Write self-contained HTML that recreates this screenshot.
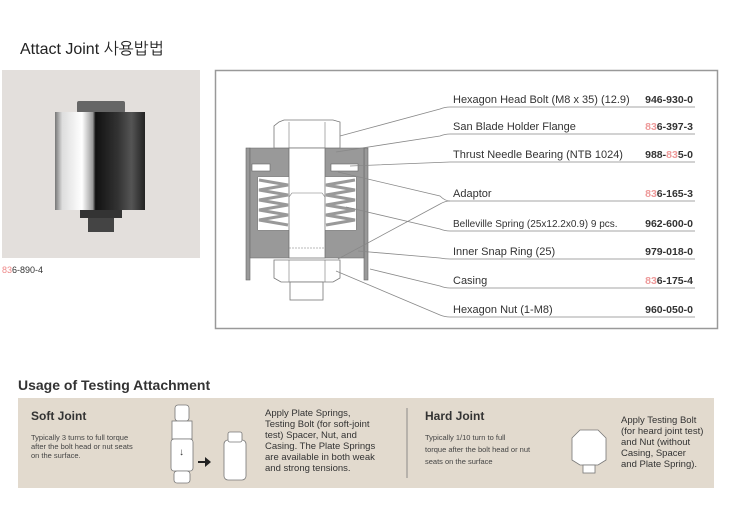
<!DOCTYPE html>
<html><head><meta charset="utf-8"><style>
body{margin:0;background:#fff;width:740px;height:521px;overflow:hidden;font-family:"Liberation Sans",Arial,sans-serif;}
</style></head><body>
<svg width="740" height="521" xmlns="http://www.w3.org/2000/svg" font-family="Liberation Sans, Noto Sans CJK KR, sans-serif">
<text x="20" y="54" font-size="16" fill="#222" font-family="Liberation Sans, NanumGothic, Noto Sans CJK KR, sans-serif">Attact Joint 사용밥법</text>
<!-- photo -->
<rect x="2" y="70" width="198" height="188" fill="#e3dfdc"/>
<defs>
<linearGradient id="cyl" x1="0" x2="1">
<stop offset="0" stop-color="#777"/><stop offset="0.08" stop-color="#ddd"/><stop offset="0.3" stop-color="#fff"/><stop offset="0.42" stop-color="#999"/><stop offset="0.45" stop-color="#111"/><stop offset="0.7" stop-color="#333"/><stop offset="0.85" stop-color="#555"/><stop offset="1" stop-color="#222"/>
</linearGradient>
</defs>
<rect x="77" y="101" width="48" height="12" rx="2" fill="#666"/>
<rect x="55" y="112" width="90" height="98" fill="url(#cyl)"/>
<rect x="80" y="210" width="42" height="8" fill="#333"/>
<rect x="88" y="218" width="26" height="14" fill="#444"/>
<text x="2" y="273" font-size="9" fill="#333"><tspan fill="#e88">83</tspan>6-890-4</text>
<!-- frame -->
<rect x="215.5" y="70.5" width="502" height="258" fill="none" stroke="#999" stroke-width="1.5"/>
<g fill="#aaa" stroke="#666" stroke-width="0.6">
<rect x="246" y="148" width="4" height="132" fill="#999"/>
<rect x="364" y="148" width="4" height="132" fill="#999"/>
<path d="M250 148 H289 V177 H258 V230 H289 V258 H250 Z" fill="#999"/>
<path d="M325 148 H364 V258 H325 V230 H356 V177 H325 Z" fill="#999"/>
<rect x="252" y="164" width="18" height="7" fill="#fff"/>
<rect x="331" y="164" width="27" height="7" fill="#fff"/>
</g>
<rect x="258" y="177" width="31" height="53" fill="#fff"/>
<rect x="325" y="177" width="31" height="53" fill="#fff"/>
<g fill="none" stroke="#999" stroke-width="3">
<path d="M259 180 L288 185 L259 190 L288 195 L259 200 L288 205 L259 210 L288 215 L259 220 L288 225"/>
<path d="M355 180 L326 185 L355 190 L326 195 L355 200 L326 205 L355 210 L326 215 L355 220 L326 225"/>
</g>
<g fill="#fff" stroke="#777" stroke-width="0.8">
<path d="M279 122 L284 120 H333 L340 122 V148 H274 V126 Z"/>
<rect x="289" y="148" width="36" height="110"/>
<path d="M274 260 H340 V278 L333 282 H281 L274 278 Z"/>
<rect x="290" y="282" width="33" height="18"/>
</g>
<g fill="none" stroke="#777" stroke-width="0.6">
<line x1="289" y1="122" x2="289" y2="148"/><line x1="325" y1="122" x2="325" y2="148"/>
<line x1="289" y1="260" x2="289" y2="282"/><line x1="325" y1="260" x2="325" y2="282"/>
<path d="M289 197 L292 193 H322 L325 197"/>
</g>
<line x1="289" y1="248" x2="325" y2="248" stroke="#777" stroke-width="0.6" stroke-dasharray="2,1"/>
<!-- leaders -->
<g fill="none" stroke="#888" stroke-width="0.8">
<path d="M695 107 H450 Q445 107 440 109 L340 136"/>
<path d="M695 134 H450 Q445 134 440 136 L336 152"/>
<path d="M695 162 H450 L350 166"/>
<path d="M695 201 H450 Q445 201 440 196 L338 172"/>
<path d="M695 231 H450 Q445 231 440 229 L346 207"/>
<path d="M695 259 H450 Q445 259 440 258 L358 251"/>
<path d="M695 288 H450 Q445 288 440 286 L370 269"/>
<path d="M695 317 H450 Q445 317 440 315 L336 271"/>
<path d="M450 201 Q445 201 440 204 L338 259"/>
</g>
<g font-size="11" fill="#333">
<text x="453" y="103">Hexagon Head Bolt (M8 x 35) (12.9)</text>
<text x="453" y="130">San Blade Holder Flange</text>
<text x="453" y="158">Thrust Needle Bearing (NTB 1024)</text>
<text x="453" y="197">Adaptor</text>
<text x="453" y="227" font-size="10">Belleville Spring (25x12.2x0.9) 9 pcs.</text>
<text x="453" y="255">Inner Snap Ring (25)</text>
<text x="453" y="284">Casing</text>
<text x="453" y="313">Hexagon Nut (1-M8)</text>
</g>
<g font-size="10.5" font-weight="bold" fill="#333" text-anchor="end">
<text x="693" y="103">946-930-0</text>
<text x="693" y="130"><tspan fill="#e99">83</tspan>6-397-3</text>
<text x="693" y="158">988-<tspan fill="#e99">83</tspan>5-0</text>
<text x="693" y="197"><tspan fill="#e99">83</tspan>6-165-3</text>
<text x="693" y="227">962-600-0</text>
<text x="693" y="255">979-018-0</text>
<text x="693" y="284"><tspan fill="#e99">83</tspan>6-175-4</text>
<text x="693" y="313">960-050-0</text>
</g>
<!-- usage -->
<text x="18" y="390" font-size="14" font-weight="bold" fill="#333">Usage of Testing Attachment</text>
<rect x="18" y="398" width="696" height="90" fill="#e2dace"/>
<text x="31" y="420" font-size="12" font-weight="bold" fill="#333">Soft Joint</text>
<g font-size="7.5" fill="#444">
<text x="31" y="440">Typically 3 turns to full torque</text>
<text x="31" y="449">after the bolt head or nut seats</text>
<text x="31" y="458">on the surface.</text>
</g>
<g fill="#fff" stroke="#777" stroke-width="0.8">
<rect x="175" y="405" width="14" height="16" rx="3"/>
<rect x="172" y="421" width="20" height="18"/>
<rect x="171" y="439" width="22" height="32" rx="3"/>
<rect x="174" y="471" width="16" height="12" rx="3"/>
<rect x="224" y="440" width="22" height="40" rx="4"/>
<rect x="228" y="432" width="14" height="10" rx="2"/>
<path d="M572 438 L580 430 H598 L606 438 V460 L598 465 H580 L572 460 Z"/>
<rect x="583" y="465" width="12" height="8"/>
</g>
<text x="179" y="455" font-size="10" fill="#333">↓</text>
<path d="M198 461 H205 V457 L211 462 L205 467 V463 H198 Z" fill="#222"/>
<g font-size="9.5" fill="#333">
<text x="265" y="416">Apply Plate Springs,</text>
<text x="265" y="427">Testing Bolt (for soft-joint</text>
<text x="265" y="438">test) Spacer, Nut, and</text>
<text x="265" y="449">Casing.  The Plate Springs</text>
<text x="265" y="460">are available in both weak</text>
<text x="265" y="471">and strong tensions.</text>
</g>
<line x1="407" y1="408" x2="407" y2="478" stroke="#777" stroke-width="0.8"/>
<text x="425" y="420" font-size="12" font-weight="bold" fill="#333">Hard Joint</text>
<g font-size="7.5" fill="#444">
<text x="425" y="440">Typically 1/10 turn to full</text>
<text x="425" y="452">torque after the bolt head or nut</text>
<text x="425" y="464">seats on the surface</text>
</g>
<g font-size="9.5" fill="#333">
<text x="621" y="423">Apply Testing Bolt</text>
<text x="621" y="434">(for heard joint test)</text>
<text x="621" y="445">and Nut (without</text>
<text x="621" y="456">Casing, Spacer</text>
<text x="621" y="467">and Plate Spring).</text>
</g>
</svg>
</body></html>
